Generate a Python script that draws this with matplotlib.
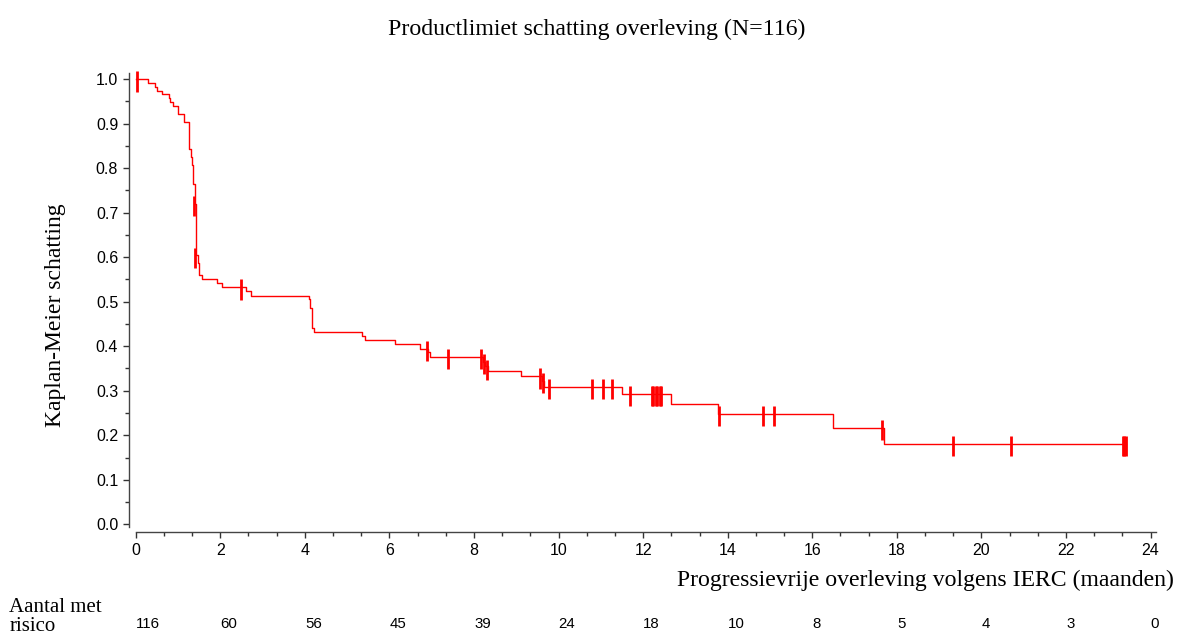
import matplotlib
matplotlib.use('Agg')
import matplotlib.pyplot as plt
from matplotlib.ticker import MultipleLocator
import numpy as np

# Kaplan-Meier steps
event_times = [0.0, 0.28, 0.46, 0.51, 0.61, 0.79, 0.81, 0.88, 1.01, 1.14, 1.25, 1.27,
               1.30, 1.34, 1.36, 1.39, 1.42, 1.47, 1.49, 1.56, 1.93, 2.04, 2.61, 2.73,
               4.10, 4.11, 4.17, 4.21, 5.36, 5.42, 6.12, 6.73, 6.92, 6.96, 8.21, 8.27,
               8.32, 9.10, 9.60, 9.65, 11.49, 12.67, 13.78, 16.49, 17.70, 23.42]
surv = [1.0, 0.9914, 0.983, 0.974, 0.966, 0.957, 0.948, 0.940, 0.922, 0.904, 0.879, 0.844,
        0.826, 0.808, 0.765, 0.720, 0.604, 0.586, 0.560, 0.550, 0.541, 0.532, 0.524, 0.513,
        0.505, 0.486, 0.440, 0.431, 0.423, 0.413, 0.404, 0.394, 0.387, 0.376, 0.365, 0.355,
        0.344, 0.333, 0.322, 0.309, 0.293, 0.271, 0.248, 0.217, 0.181, 0.181]

# censored observations
cens_times = [0.04, 1.37, 1.41, 2.49, 6.89, 7.38, 8.16, 8.24, 8.30, 9.57, 9.62, 9.77,
              10.78, 11.05, 11.27, 11.70, 12.21, 12.23, 12.31, 12.33, 12.41, 12.43, 13.80,
              14.83, 15.09, 17.66, 19.32, 20.70, 23.35, 23.38, 23.42]
cens_levels = [1.0, 0.720, 0.603, 0.532, 0.394, 0.376, 0.376, 0.365, 0.352, 0.333, 0.322, 0.309,
               0.309, 0.309, 0.309, 0.293, 0.293, 0.293, 0.293, 0.293, 0.293, 0.293, 0.248,
               0.248, 0.248, 0.217, 0.181, 0.181, 0.181, 0.181, 0.181]

risk_times = [0, 2, 4, 6, 8, 10, 12, 14, 16, 18, 20, 22, 24]
at_risk = [116, 60, 56, 45, 39, 24, 18, 10, 8, 5, 4, 3, 0]

serif = ['Liberation Serif', 'DejaVu Serif']
sans = ['Liberation Sans', 'DejaVu Sans']

fig = plt.figure(figsize=(11.77, 6.35), dpi=100)
ax = fig.add_axes([0.1099, 0.1627, 0.8723, 0.7219])

ax.step(event_times, surv, where='post', color='#ff0000', lw=1.0)
cl = np.array(cens_levels)
ax.vlines(cens_times, cl - 0.028, cl + 0.018, color='#ff0000', lw=2.0, clip_on=False)

ax.set_xlim(-0.151, 24.13)
ax.set_ylim(-0.0166, 1.013)
ax.xaxis.set_major_locator(MultipleLocator(2))
ax.xaxis.set_minor_locator(MultipleLocator(2 / 3))
ax.yaxis.set_major_locator(MultipleLocator(0.1))
ax.yaxis.set_minor_locator(MultipleLocator(0.05))
ax.yaxis.set_major_formatter(plt.FuncFormatter(lambda v, p: '%.1f' % v))

for s in ['top', 'right']:
    ax.spines[s].set_visible(False)
for s in ['left', 'bottom']:
    ax.spines[s].set_color('#444444')
    ax.spines[s].set_linewidth(1.0)
ax.spines['bottom'].set_bounds(0.0, 24.13)
ax.spines['left'].set_bounds(-0.005, 1.013)

ax.tick_params(which='major', direction='out', length=4, width=1, color='#333333',
               labelsize=11.5, pad=4)
ax.tick_params(which='minor', direction='out', length=3, width=1, color='#333333')
for lab in ax.get_xticklabels() + ax.get_yticklabels():
    lab.set_family(sans)

fig.text(0.507, 0.953, 'Productlimiet schatting overleving (N=116)', ha='center', va='center',
         family=serif, fontsize=17.2)
fig.text(0.047, 0.504, 'Kaplan-Meier schatting', rotation=90, ha='center', va='center',
         family=serif, fontsize=17)
fig.text(0.997, 0.086, 'Progressievrije overleving volgens IERC (maanden)', ha='right',
         va='center', family=serif, fontsize=17.1)
fig.text(0.008, 0.037, 'Aantal met', ha='left', va='baseline', family=serif, fontsize=15)
fig.text(0.008, 0.006, 'risico', ha='left', va='baseline', family=serif, fontsize=15)

trans = matplotlib.transforms.blended_transform_factory(ax.transData, fig.transFigure)
for t, n in zip(risk_times, at_risk):
    ax.text(t, 0.017, str(n), transform=trans, ha='left', va='center', family=sans,
            fontsize=10.8)

fig.savefig('out.png', dpi=100)
